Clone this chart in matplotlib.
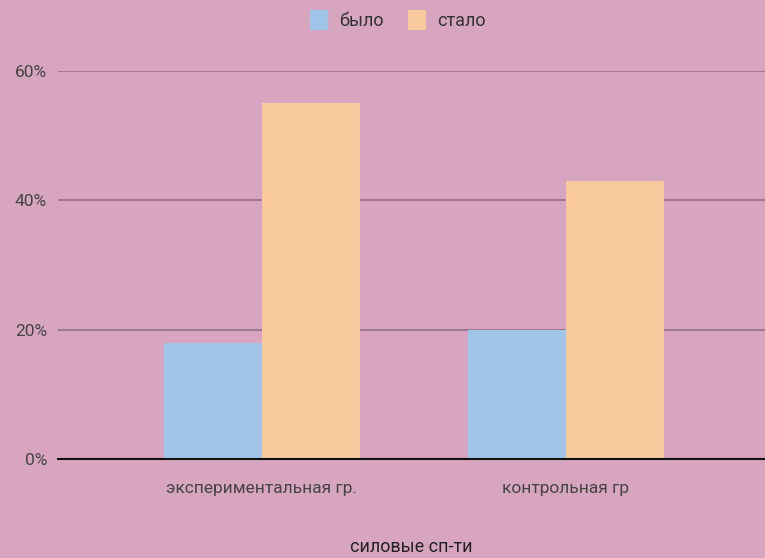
import matplotlib.pyplot as plt
import numpy as np

categories = ['экспериментальная гр.', 'контрольная гр']
bylo = [18, 20]
stalo = [55, 43]
yticks = [0, 20, 40, 60]

bg = '#d8a5c0'
plt.rcParams['font.family'] = ['Roboto', 'DejaVu Sans']

fig = plt.figure(figsize=(7.65, 5.58), dpi=100, facecolor=bg)
ax = fig.add_axes([58 / 765, 99 / 558, 707 / 765, 388 / 558], facecolor=bg)

x = np.arange(len(categories))
w = 0.322
ax.bar(x - w / 2, bylo, w, color='#9fc5e8', label='было', zorder=3)
ax.bar(x + w / 2, stalo, w, color='#f9cb9c', label='стало', zorder=3)

ax.set_xlim(-0.671, 1.655)
ax.set_ylim(0, 60)
ax.set_yticks(yticks)
ax.set_yticklabels([f'{t}%' for t in yticks])
ax.set_xticks(x)
ax.set_xticklabels(categories)
ax.tick_params(length=0, labelsize=12.5, colors='#444444')
ax.tick_params(axis='y', pad=8)
ax.tick_params(axis='x', pad=16)
ax.grid(axis='y', color='#a07890', linewidth=1.5, zorder=0)
for s in ['top', 'right', 'left']:
    ax.spines[s].set_visible(False)
ax.spines['bottom'].set_color('#111111')
ax.spines['bottom'].set_linewidth(1.5)
ax.spines['bottom'].set_zorder(4)

ax.set_xlabel('силовые сп-ти', fontsize=13, color='#222222', labelpad=30)

leg = fig.legend(loc='upper center', bbox_to_anchor=(0.52, 1.012), ncol=2,
                 frameon=False, fontsize=13, handlelength=1.0, handleheight=1.4,
                 columnspacing=1.4, handletextpad=0.6)
for t in leg.get_texts():
    t.set_color('#333333')

fig.savefig('out.png', dpi=100, facecolor=bg)
